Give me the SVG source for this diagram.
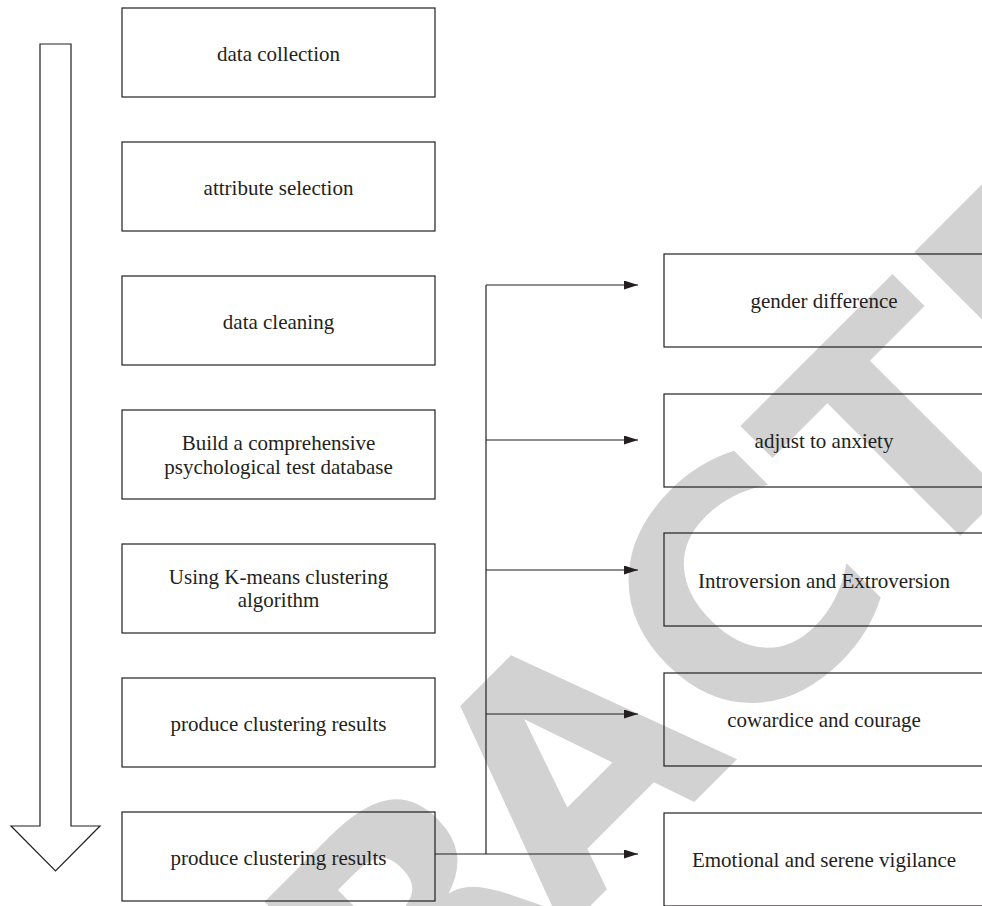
<svg xmlns="http://www.w3.org/2000/svg" width="982" height="906" viewBox="0 0 982 906">
<style>
.box{fill:none;stroke:#231f20;stroke-width:1.2}
.lbl{font-family:"Liberation Serif","Times New Roman",serif;font-size:21px;fill:#231f20;text-anchor:middle}
.conn{fill:none;stroke:#231f20;stroke-width:1.2}
.wm{font-family:"DejaVu Sans",Verdana,sans-serif;font-weight:bold;font-size:320px;fill:#d2d2d2}
</style>
<defs>
<marker id="ah" markerUnits="userSpaceOnUse" markerWidth="15" markerHeight="10" refX="14" refY="4.5" orient="auto">
<path d="M0,0 L14,4.5 L0,9 z" fill="#231f20"/>
</marker>
</defs>
<rect width="982" height="906" fill="#ffffff"/>
<g id="watermark" transform="rotate(-45)">
<text class="wm" x="-1163 -917 -698 -480 -261.8 -14.1 220.8 439 657.6" y="1058">RETRACTED</text>
</g>
<g id="flow-arrow">
<polygon class="box" points="40,44 71,44 71,826 100,826 55.5,871 11,826 40,826"/>
</g>
<g id="connectors">
<line class="conn" x1="486" y1="285" x2="486" y2="854"/>
<line class="conn" x1="486" y1="285" x2="638" y2="285" marker-end="url(#ah)"/>
<line class="conn" x1="486" y1="440" x2="638" y2="440" marker-end="url(#ah)"/>
<line class="conn" x1="486" y1="570" x2="638" y2="570" marker-end="url(#ah)"/>
<line class="conn" x1="486" y1="714" x2="638" y2="714" marker-end="url(#ah)"/>
<line class="conn" x1="435" y1="854" x2="638" y2="854" marker-end="url(#ah)"/>
</g>
<g id="n1"><rect class="box" x="122" y="8" width="313" height="89"/><text class="lbl" x="278.5" y="60.5">data collection</text></g>
<g id="n2"><rect class="box" x="122" y="142" width="313" height="89"/><text class="lbl" x="278.5" y="194.5">attribute selection</text></g>
<g id="n3"><rect class="box" x="122" y="276" width="313" height="89"/><text class="lbl" x="278.5" y="328.5">data cleaning</text></g>
<g id="n4"><rect class="box" x="122" y="410" width="313" height="89"/><text class="lbl" x="278.5" y="450">Build a comprehensive</text><text class="lbl" x="278.5" y="474">psychological test database</text></g>
<g id="n5"><rect class="box" x="122" y="544" width="313" height="89"/><text class="lbl" x="278.5" y="583.5">Using K-means clustering</text><text class="lbl" x="278.5" y="607">algorithm</text></g>
<g id="n6"><rect class="box" x="122" y="678" width="313" height="89"/><text class="lbl" x="278.5" y="730.5">produce clustering results</text></g>
<g id="n7"><rect class="box" x="122" y="812" width="313" height="89"/><text class="lbl" x="278.5" y="864.5">produce clustering results</text></g>
<g id="r1"><rect class="box" x="664" y="254" width="320" height="93"/><text class="lbl" x="824" y="308">gender difference</text></g>
<g id="r2"><rect class="box" x="664" y="394" width="320" height="93"/><text class="lbl" x="824" y="448">adjust to anxiety</text></g>
<g id="r3"><rect class="box" x="664" y="533" width="320" height="93"/><text class="lbl" x="824" y="587.5">Introversion and Extroversion</text></g>
<g id="r4"><rect class="box" x="664" y="673" width="320" height="93"/><text class="lbl" x="824" y="727">cowardice and courage</text></g>
<g id="r5"><rect class="box" x="664" y="813" width="320" height="93"/><text class="lbl" x="824" y="867">Emotional and serene vigilance</text></g>
</svg>
